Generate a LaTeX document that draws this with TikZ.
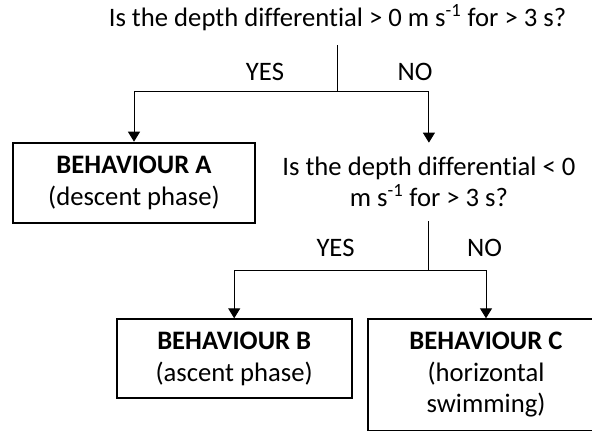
\documentclass[tikz,border=0pt]{standalone}
\usepackage{fontspec}
\setmainfont{Carlito}[Ligatures=CommonOff]
\usepackage{tikz}
\usetikzlibrary{arrows.meta}

\begin{document}
\begin{tikzpicture}[
x=0.75pt, y=-0.75pt,
every node/.style={font=\fontsize{20}{23.6}\selectfont},
question/.style={align=center, inner xsep=0pt, inner ysep=10.5pt},
result/.style={draw, line width=1.5pt, align=center, inner sep=0pt},
answer/.style={anchor=base, inner sep=0pt},
line/.style={line width=0.75pt},
arrow/.style={line width=0.75pt, -{Triangle[length=7.5pt, width=9pt]}}
]
\useasboundingbox (0,0) rectangle (592,430);

% --- First question ---
\node[question, anchor=base] (q1) at (337.5,26.7) {Is the depth differential > 0 m s\textsuperscript{-1} for > 3 s?};
\coordinate (split1) at (337.5,91);
\node[answer] (yes1) at (265,80) {YES};
\node[answer] (no1) at (415,80) {NO};

% --- Behaviour A and second question ---
\node[result, minimum width=181.5pt, minimum height=60pt] (boxA) at (134,182.7) {\textbf{BEHAVIOUR A}\\(descent phase)};
\node[question] (q2) at (428.9,182) {Is the depth differential < 0\\m s\textsuperscript{-1} for > 3 s?};
\coordinate (split2) at (428.9,270.7);
\node[answer] (yes2) at (335.5,256) {YES};
\node[answer] (no2) at (484.5,256) {NO};

% --- Behaviours B and C ---
\node[result, minimum width=176.25pt, minimum height=59.25pt] (boxB) at (234.2,358.8) {\textbf{BEHAVIOUR B}\\(ascent phase)};
\node[result, minimum width=176.5pt, minimum height=83.4pt] (boxC) at (486,374.9) {\textbf{BEHAVIOUR C}\\(horizontal\\swimming)};

% --- Connections ---
\draw[line] (q1) -- (split1);
\draw[arrow] (split1) -| (boxA);
\draw[arrow] (split1) -| (q2);

\draw[line] (q2) -- (split2);
\draw[arrow] (split2) -| (boxB);
\draw[arrow] (split2) -| (boxC);

\end{tikzpicture}
\end{document}
